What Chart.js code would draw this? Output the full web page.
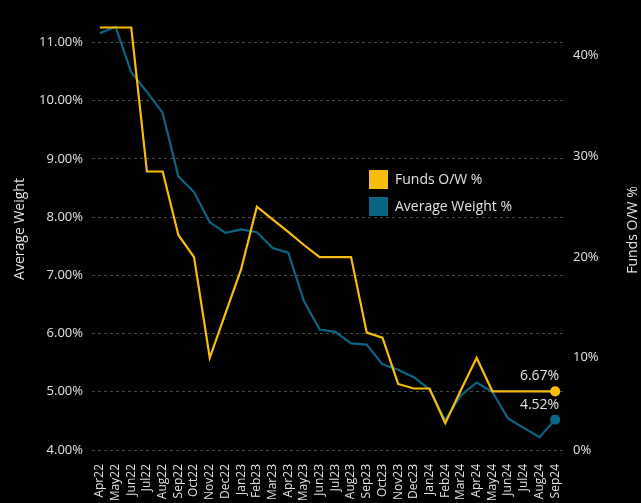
<!DOCTYPE html>
<html>
<head>
<meta charset="utf-8">
<title>Funds O/W % vs Average Weight</title>
<script src="https://cdn.jsdelivr.net/npm/chart.js@4.4.1/dist/chart.umd.min.js"></script>
<style>
  html, body { margin: 0; padding: 0; background: #000; }
  #wrap { position: relative; width: 641px; height: 503px; }
</style>
</head>
<body>
<div id="wrap"><canvas id="myChart"></canvas></div>
<script>
var months = ['Apr22','May22','Jun22','Jul22','Aug22','Sep22','Oct22','Nov22','Dec22','Jan23','Feb23','Mar23',
              'Apr23','May23','Jun23','Jul23','Aug23','Sep23','Oct23','Nov23','Dec23','Jan24','Feb24','Mar24',
              'Apr24','May24','Jun24','Jul24','Aug24','Sep24'];

// Funds O/W % (right axis)
var fundsOW = [42.8, 42.8, 42.8, 28.5, 28.5, 22.2, 20.0, 10.0, 14.4, 18.8, 25.0, 23.75,
               22.5, 21.2, 20.0, 20.0, 20.0, 12.5, 12.0, 7.4, 6.95, 6.95, 3.5, 6.8,
               10.0, 6.67, 6.67, 6.67, 6.67, 6.67];

// Average Weight % (left axis)
var avgWeight = [11.16, 11.27, 10.49, 10.15, 9.79, 8.70, 8.43, 7.91, 7.73, 7.79, 7.74, 7.47,
                 7.39, 6.56, 6.07, 6.03, 5.83, 5.81, 5.47, 5.38, 5.25, 5.04, 4.51, 4.94,
                 5.16, 5.00, 4.54, 4.38, 4.22, 4.52];

var leftTicks = [4, 5, 6, 7, 8, 9, 10, 11];
var rightTicks = [10, 20, 30, 40];
var rightTickLabels = ['0%', '10%', '20%', '30%', '40%'];
var endLabels = ['6.67%', '4.52%'];

var yellow = '#f7bc0c';
var teal = '#0a6585';
var textColor = '#e2e2e2';
var font = "'Open Sans', 'Noto Sans', sans-serif";

var lastIdx = months.length - 1;

// legend, axis titles and last value labels
var extras = {
  id: 'extras',
  afterDraw: function(chart) {
    var ctx = chart.ctx;
    ctx.save();
    ctx.font = '14px ' + font;
    ctx.fillStyle = textColor;
    ctx.textBaseline = 'middle';

    // legend inside the plot
    chart.data.datasets.forEach(function(ds, i) {
      var y = 170 + i * 27;
      ctx.fillStyle = ds.borderColor;
      ctx.fillRect(369, y, 19, 19);
      ctx.fillStyle = textColor;
      ctx.textAlign = 'left';
      ctx.fillText(ds.label, 395, y + 10);
    });

    // end labels
    ctx.textAlign = 'right';
    ctx.textBaseline = 'bottom';
    chart.data.datasets.forEach(function(ds, i) {
      var pt = chart.getDatasetMeta(i).data[lastIdx];
      ctx.fillText(endLabels[i], pt.x + 4, pt.y - 8);
    });

    // axis titles, both reading bottom to top
    ctx.textAlign = 'center';
    ctx.textBaseline = 'middle';
    ctx.save();
    ctx.translate(20, 229);
    ctx.rotate(-Math.PI / 2);
    ctx.fillText('Average Weight', 0, 0);
    ctx.restore();

    ctx.translate(633, 230);
    ctx.rotate(-Math.PI / 2);
    ctx.fillText('Funds O/W %', 0, 0);
    ctx.restore();
  }
};

var pointSize = function(c) { return c.dataIndex === lastIdx ? 4 : 0; };

var ctx = document.getElementById('myChart').getContext('2d');
var myChart = new Chart(ctx, {
  type: 'line',
  data: {
    labels: months,
    datasets: [{
      label: 'Funds O/W %',
      data: fundsOW,
      yAxisID: 'y1',
      borderColor: yellow,
      backgroundColor: yellow,
      borderWidth: 2.2,
      pointRadius: pointSize,
      pointHoverRadius: 0,
      tension: 0
    }, {
      label: 'Average Weight %',
      data: avgWeight,
      yAxisID: 'y',
      borderColor: teal,
      backgroundColor: teal,
      borderWidth: 2.2,
      pointRadius: pointSize,
      pointHoverRadius: 0,
      tension: 0
    }]
  },
  options: {
    responsive: true,
    maintainAspectRatio: false,
    animation: false,
    layout: { padding: { top: 25, left: 0, right: 0, bottom: 0 } },
    plugins: {
      legend: { display: false },
      tooltip: { enabled: false }
    },
    scales: {
      x: {
        offset: true,
        grid: { display: false, drawTicks: false },
        border: { display: false },
        ticks: {
          color: textColor,
          font: { family: font, size: 12 },
          autoSkip: false,
          minRotation: 90,
          maxRotation: 90,
          padding: 14
        },
        afterFit: function(s) { s.height = 53; }
      },
      y: {
        position: 'left',
        min: 4,
        max: 11.3,
        afterBuildTicks: function(s) {
          s.ticks = leftTicks.map(function(v) { return { value: v }; });
        },
        grid: { color: '#4a4a4a', lineWidth: 1, drawTicks: false },
        border: { display: false, dash: [3, 3] },
        ticks: {
          color: textColor,
          font: { family: font, size: 13 },
          padding: 9,
          callback: function(v) { return v.toFixed(2) + '%'; }
        },
        afterFit: function(s) { s.width = 92; }
      },
      y1: {
        position: 'right',
        min: 0.84,
        max: 43.05,
        afterBuildTicks: function(s) {
          s.ticks = [{ value: s.min }].concat(rightTicks.map(function(v) { return { value: v }; }));
        },
        grid: { display: false, drawTicks: false },
        border: { display: false },
        ticks: {
          color: textColor,
          font: { family: font, size: 13 },
          padding: 10,
          callback: function(v, i) { return rightTickLabels[i]; }
        },
        afterFit: function(s) { s.width = 78; }
      }
    }
  },
  plugins: [extras]
});
</script>
</body>
</html>
